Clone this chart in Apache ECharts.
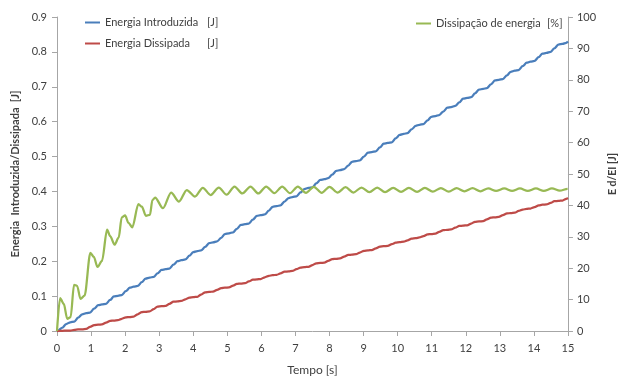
<!DOCTYPE html>
<html>
<head>
<meta charset="utf-8">
<script src="https://cdn.jsdelivr.net/npm/echarts@6/dist/echarts.min.js"></script>
<style>
html,body{margin:0;padding:0;background:#fff;}
#chart{width:626px;height:381px;}
</style>
</head>
<body>
<div id="chart"></div>
<script>
// Time samples [s] for energy curves
const tempo = [0, 0.04, 0.16, 0.27, 0.39, 0.51, 0.62, 0.74, 0.86, 0.97, 1.09, 1.21, 1.32, 1.44, 1.56, 1.67, 1.79, 1.90, 2.02, 2.14, 2.25, 2.37, 2.49, 2.60, 2.72, 2.84, 2.95, 3.07, 3.19, 3.30, 3.42, 3.54, 3.65, 3.77, 3.89, 4.00, 4.12, 4.23, 4.35, 4.47, 4.58, 4.70, 4.82, 4.93, 5.05, 5.17, 5.28, 5.40, 5.52, 5.63, 5.75, 5.87, 5.98, 6.10, 6.22, 6.33, 6.45, 6.56, 6.68, 6.80, 6.91, 7.03, 7.15, 7.26, 7.38, 7.50, 7.61, 7.73, 7.85, 7.96, 8.08, 8.20, 8.31, 8.43, 8.55, 8.66, 8.78, 8.89, 9.01, 9.13, 9.24, 9.36, 9.48, 9.59, 9.71, 9.83, 9.94, 10.06, 10.18, 10.29, 10.41, 10.53, 10.64, 10.76, 10.88, 10.99, 11.11, 11.22, 11.34, 11.46, 11.57, 11.69, 11.81, 11.92, 12.04, 12.16, 12.27, 12.39, 12.51, 12.62, 12.74, 12.86, 12.97, 13.09, 13.21, 13.32, 13.44, 13.55, 13.67, 13.79, 13.90, 14.02, 14.14, 14.25, 14.37, 14.49, 14.60, 14.72, 14.84, 14.95, 15.00];

// Energia Introduzida [J]
const energiaIntroduzida = [
0, 0.002, 0.010, 0.020,
0.025, 0.027, 0.038, 0.048,
0.051, 0.053, 0.064, 0.074,
0.076, 0.078, 0.089, 0.099,
0.101, 0.103, 0.114, 0.124,
0.127, 0.129, 0.140, 0.150,
0.153, 0.155, 0.165, 0.175,
0.177, 0.179, 0.190, 0.200,
0.203, 0.205, 0.216, 0.226,
0.229, 0.231, 0.241, 0.252,
0.254, 0.257, 0.267, 0.278,
0.280, 0.283, 0.293, 0.304,
0.306, 0.308, 0.319, 0.330,
0.332, 0.334, 0.345, 0.356,
0.358, 0.360, 0.371, 0.381,
0.384, 0.386, 0.397, 0.407,
0.410, 0.412, 0.423, 0.433,
0.435, 0.438, 0.448, 0.459,
0.461, 0.464, 0.474, 0.485,
0.487, 0.489, 0.500, 0.511,
0.513, 0.515, 0.526, 0.537,
0.539, 0.541, 0.552, 0.562,
0.565, 0.567, 0.578, 0.588,
0.591, 0.593, 0.604, 0.614,
0.616, 0.619, 0.629, 0.640,
0.642, 0.645, 0.655, 0.666,
0.668, 0.670, 0.681, 0.692,
0.694, 0.696, 0.707, 0.718,
0.720, 0.722, 0.733, 0.743,
0.746, 0.748, 0.759, 0.769,
0.772, 0.774, 0.785, 0.795,
0.797, 0.800, 0.810, 0.821,
0.823, 0.826, 0.830];

// Energia Dissipada [J]
const energiaDissipada = [
0, 0, 0.0005, 0.001,
0.0014, 0.003, 0.0046, 0.005,
0.006, 0.0115, 0.017, 0.018,
0.019, 0.024, 0.029, 0.030,
0.031, 0.035, 0.039, 0.040,
0.041, 0.048, 0.054, 0.055,
0.056, 0.063, 0.070, 0.071,
0.072, 0.078, 0.084, 0.085,
0.086, 0.091, 0.096, 0.097,
0.098, 0.1045, 0.111, 0.112,
0.113, 0.118, 0.123, 0.124,
0.125, 0.130, 0.135, 0.136,
0.137, 0.142, 0.147, 0.148,
0.149, 0.154, 0.158, 0.160,
0.161, 0.165, 0.170, 0.171,
0.172, 0.177, 0.182, 0.183,
0.184, 0.189, 0.194, 0.195,
0.196, 0.201, 0.206, 0.207,
0.208, 0.213, 0.218, 0.219,
0.220, 0.225, 0.230, 0.231,
0.232, 0.237, 0.242, 0.243,
0.244, 0.249, 0.253, 0.255,
0.256, 0.260, 0.265, 0.266,
0.268, 0.272, 0.277, 0.278,
0.279, 0.284, 0.289, 0.290,
0.291, 0.296, 0.301, 0.302,
0.303, 0.308, 0.313, 0.314,
0.315, 0.320, 0.325, 0.326,
0.327, 0.332, 0.337, 0.338,
0.339, 0.344, 0.348, 0.350,
0.351, 0.355, 0.360, 0.362,
0.363, 0.367, 0.372, 0.373,
0.374, 0.379, 0.381];

// Dissipação de energia [%] (own time samples)
const tempoDissipacao = [0, 0.09, 0.2, 0.3, 0.4, 0.5, 0.59, 0.69, 0.81, 0.98, 1.08, 1.19, 1.32, 1.47, 1.56, 1.69, 1.81, 1.9, 2.0, 2.1, 2.21, 2.39, 2.49, 2.61, 2.73, 2.8, 2.88, 3.11, 3.35, 3.58, 3.81, 4.05, 4.28, 4.51, 4.75, 4.98, 5.21, 5.44, 5.68, 5.91, 6.14, 6.38, 6.61, 6.84, 7.07, 7.31, 7.54, 7.77, 8.0, 8.24, 8.47, 8.7, 8.94, 9.17, 9.4, 9.63, 9.87, 10.1, 10.33, 10.57, 10.8, 11.03, 11.27, 11.5, 11.73, 11.96, 12.2, 12.43, 12.66, 12.89, 13.13, 13.36, 13.59, 13.82, 14.06, 14.29, 14.53, 14.76, 14.99, 15];
const dissipacaoEnergia = [0, 10.5, 8.6, 3.9, 4.4, 14.7, 14.4, 10.2, 11.3, 24.9, 23.6, 20.4, 22.3, 32.3, 30.2, 27.5, 29.7, 36.2, 36.8, 34.4, 33.0, 40.4, 39.6, 36.7, 37.0, 41.7, 42.5, 39.1, 44.1, 41.2, 44.9, 42.8, 45.6, 43.3, 45.7, 43.4, 46.0, 43.8, 46.0, 43.8, 46.0, 43.9, 46.0, 43.9, 46.0, 44.0, 45.9, 44.0, 45.9, 44.1, 45.8, 44.1, 45.7, 44.2, 45.7, 44.2, 45.6, 44.3, 45.6, 44.3, 45.6, 44.4, 45.5, 44.4, 45.5, 44.5, 45.5, 44.5, 45.4, 44.6, 45.4, 44.6, 45.4, 44.6, 45.4, 44.6, 45.4, 44.7, 45.3, 45.2];

const nomes = ['Energia Introduzida', 'Energia Dissipada', 'Dissipação de energia'];
const unidades = ['[J]', '[J]', '[%]'];
const cores = ['#4a7ebb', '#be4b48', '#98b954'];

const pares = (xs, ys) => xs.map((x, i) => [x, ys[i]]);
const fonte = 'Lato, "Open Sans", sans-serif';
const eixoCor = '#a6a6a6';
const textoCor = '#404040';

const legendaTexto = (w) => ({
  fontSize: 11, color: textoCor, fontFamily: fonte,
  rich: {n: {width: w, fontSize: 11, color: textoCor, fontFamily: fonte},
         u: {fontSize: 11, color: textoCor, fontFamily: fonte}}
});

const chart = echarts.init(document.getElementById('chart'), null, {renderer: 'canvas'});
chart.setOption({
  animation: false,
  textStyle: {fontFamily: fonte},
  grid: {left: 57, right: 54, top: 17, bottom: 47, containLabel: false},
  legend: [
    {
      data: [nomes[0], nomes[1]], orient: 'vertical', left: 85, top: 17, padding: 0,
      itemGap: 10, itemWidth: 15, itemHeight: 2, icon: 'rect',
      formatter: n => '{n|' + n + '}{u|' + unidades[nomes.indexOf(n)] + '}',
      textStyle: legendaTexto(102)
    },
    {
      data: [nomes[2]], orient: 'vertical', left: 416, top: 18, padding: 0,
      itemWidth: 15, itemHeight: 2, icon: 'rect',
      formatter: n => '{n|' + n + '}{u|' + unidades[nomes.indexOf(n)] + '}',
      textStyle: legendaTexto(111)
    }
  ],
  xAxis: {
    type: 'value', min: 0, max: 15, interval: 1,
    name: 'Tempo [s]', nameLocation: 'middle', nameGap: 33,
    nameTextStyle: {fontSize: 12, color: textoCor, fontFamily: fonte},
    axisLine: {show: true, lineStyle: {color: eixoCor, width: 1}},
    axisTick: {show: true, length: 5, lineStyle: {color: eixoCor}},
    axisLabel: {fontSize: 11, color: textoCor, margin: 12},
    splitLine: {show: false}
  },
  yAxis: [
    {
      type: 'value', min: 0, max: 0.9, interval: 0.1, position: 'left',
      name: 'Energia  Introduzida/Dissipada  [J]', nameLocation: 'middle', nameGap: 34, nameRotate: 90,
      nameTextStyle: {fontSize: 11, fontWeight: 'bold', color: textoCor, fontFamily: fonte},
      axisLine: {show: true, lineStyle: {color: eixoCor, width: 1}},
      axisTick: {show: true, length: 5, lineStyle: {color: eixoCor}},
      axisLabel: {fontSize: 11, color: textoCor, margin: 10},
      splitLine: {show: false}
    },
    {
      type: 'value', min: 0, max: 100, interval: 10, position: 'right',
      name: 'E d/EI [J]', nameLocation: 'middle', nameGap: 33, nameRotate: 90,
      nameTextStyle: {fontSize: 10.5, fontWeight: 'bold', color: textoCor, fontFamily: fonte},
      axisLine: {show: true, lineStyle: {color: eixoCor, width: 1}},
      axisTick: {show: true, length: 5, lineStyle: {color: eixoCor}},
      axisLabel: {fontSize: 11, color: textoCor, margin: 9},
      splitLine: {show: false}
    }
  ],
  series: [
    {name: nomes[0], type: 'line', yAxisIndex: 0, data: pares(tempo, energiaIntroduzida),
      showSymbol: false, smooth: 0.3, smoothMonotone: 'x', lineStyle: {color: cores[0], width: 2.25}, itemStyle: {color: cores[0]}},
    {name: nomes[1], type: 'line', yAxisIndex: 0, data: pares(tempo, energiaDissipada),
      showSymbol: false, smooth: 0.3, smoothMonotone: 'x', lineStyle: {color: cores[1], width: 2.25}, itemStyle: {color: cores[1]}},
    {name: nomes[2], type: 'line', yAxisIndex: 1, data: pares(tempoDissipacao, dissipacaoEnergia),
      showSymbol: false, smooth: 0.3, smoothMonotone: 'x', lineStyle: {color: cores[2], width: 2.25}, itemStyle: {color: cores[2]}}
  ]
});
</script>
</body>
</html>
